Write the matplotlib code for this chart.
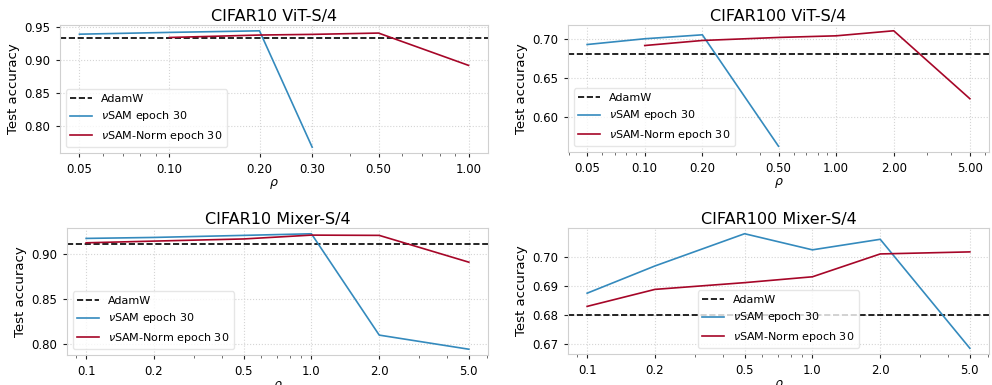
import matplotlib
matplotlib.use("Agg")
import matplotlib.pyplot as plt
from matplotlib.ticker import FixedLocator, FixedFormatter, NullFormatter

# CIFAR10 ViT-S/4
c10_vit_sam_x = [0.05, 0.1, 0.2, 0.3]
c10_vit_sam_y = [0.9393, 0.942, 0.9444, 0.768]
c10_vit_norm_x = [0.1, 0.2, 0.3, 0.5, 1.0]
c10_vit_norm_y = [0.9343, 0.938, 0.939, 0.941, 0.892]
c10_vit_adamw = 0.934
c10_vit_ticks = [0.05, 0.1, 0.2, 0.3, 0.5, 1.0]
c10_vit_labels = ["0.05", "0.10", "0.20", "0.30", "0.50", "1.00"]

# CIFAR100 ViT-S/4
c100_vit_sam_x = [0.05, 0.1, 0.2, 0.5]
c100_vit_sam_y = [0.6935, 0.7009, 0.706, 0.5625]
c100_vit_norm_x = [0.1, 0.2, 0.5, 1.0, 2.0, 5.0]
c100_vit_norm_y = [0.6922, 0.6987, 0.7026, 0.7047, 0.7112, 0.6237]
c100_vit_adamw = 0.6819
c100_vit_ticks = [0.05, 0.1, 0.2, 0.5, 1.0, 2.0, 5.0]
c100_vit_labels = ["0.05", "0.10", "0.20", "0.50", "1.00", "2.00", "5.00"]

# CIFAR10 Mixer-S/4
c10_mix_sam_x = [0.1, 0.2, 0.5, 1.0, 2.0, 5.0]
c10_mix_sam_y = [0.9176, 0.9187, 0.921, 0.9228, 0.8094, 0.7936]
c10_mix_norm_x = [0.1, 0.2, 0.5, 1.0, 2.0, 5.0]
c10_mix_norm_y = [0.9127, 0.9146, 0.917, 0.9213, 0.921, 0.891]
c10_mix_adamw = 0.9112
mix_ticks = [0.1, 0.2, 0.5, 1.0, 2.0, 5.0]
mix_labels = ["0.1", "0.2", "0.5", "1.0", "2.0", "5.0"]

# CIFAR100 Mixer-S/4
c100_mix_sam_x = [0.1, 0.2, 0.5, 1.0, 2.0, 5.0]
c100_mix_sam_y = [0.6875, 0.6968, 0.7078, 0.7023, 0.7059, 0.6687]
c100_mix_norm_x = [0.1, 0.2, 0.5, 1.0, 2.0, 5.0]
c100_mix_norm_y = [0.683, 0.6888, 0.6911, 0.6931, 0.7009, 0.7016]
c100_mix_adamw = 0.6802

BLUE = "#348ABD"
RED = "#A60628"

panels = [
    ("CIFAR10 ViT-S/4", c10_vit_sam_x, c10_vit_sam_y, c10_vit_norm_x, c10_vit_norm_y,
     c10_vit_adamw, c10_vit_ticks, c10_vit_labels, [0.80, 0.85, 0.90, 0.95], "lower left",
     (60, 25, 488, 153)),
    ("CIFAR100 ViT-S/4", c100_vit_sam_x, c100_vit_sam_y, c100_vit_norm_x, c100_vit_norm_y,
     c100_vit_adamw, c100_vit_ticks, c100_vit_labels, [0.60, 0.65, 0.70], "lower left",
     (568, 25, 989, 152)),
    ("CIFAR10 Mixer-S/4", c10_mix_sam_x, c10_mix_sam_y, c10_mix_norm_x, c10_mix_norm_y,
     c10_mix_adamw, mix_ticks, mix_labels, [0.80, 0.85, 0.90], "lower left",
     (67, 228, 488, 355)),
    ("CIFAR100 Mixer-S/4", c100_mix_sam_x, c100_mix_sam_y, c100_mix_norm_x, c100_mix_norm_y,
     c100_mix_adamw, mix_ticks, mix_labels, [0.67, 0.68, 0.69, 0.70], "lower center",
     (568, 228, 989, 354)),
]

W, H = 992, 385
fig = plt.figure(figsize=(W / 100, H / 100), dpi=100)

for (title, sx, sy, nx, ny, adamw, ticks, tlabels, yticks, loc, box) in panels:
    x0, y0, x1, y1 = box
    ax = fig.add_axes([x0 / W, 1 - y1 / H, (x1 - x0) / W, (y1 - y0) / H])
    ax.axhline(adamw, color="black", linestyle="--", linewidth=1.2, label="AdamW")
    ax.plot(sx, sy, color=BLUE, linewidth=1.2, label=r"$\nu$SAM epoch 30")
    ax.plot(nx, ny, color=RED, linewidth=1.2, label=r"$\nu$SAM-Norm epoch 30")
    ax.set_xscale("log")
    ax.xaxis.set_major_locator(FixedLocator(ticks))
    ax.xaxis.set_major_formatter(FixedFormatter(tlabels))
    ax.xaxis.set_minor_formatter(NullFormatter())
    ax.set_yticks(yticks)
    ax.set_yticklabels(["%.2f" % v for v in yticks])
    ax.set_title(title, fontsize=11.5, pad=3)
    ax.set_xlabel(r"$\rho$", fontsize=9, labelpad=1)
    ax.set_ylabel("Test accuracy", fontsize=9.5, labelpad=3)
    ax.tick_params(axis="both", which="major", labelsize=8.5, length=3, color="#222222", pad=4)
    ax.tick_params(axis="x", which="minor", length=2, color="#555555")
    ax.grid(True, which="major", color="#d5d5d5", linestyle=":", linewidth=0.8)
    for s in ax.spines.values():
        s.set_color("#d0d0d0")
    ax.legend(loc=loc, fontsize=8, framealpha=0.8, edgecolor="#e0e0e0", fancybox=True)

fig.savefig("out.png", dpi=100)
